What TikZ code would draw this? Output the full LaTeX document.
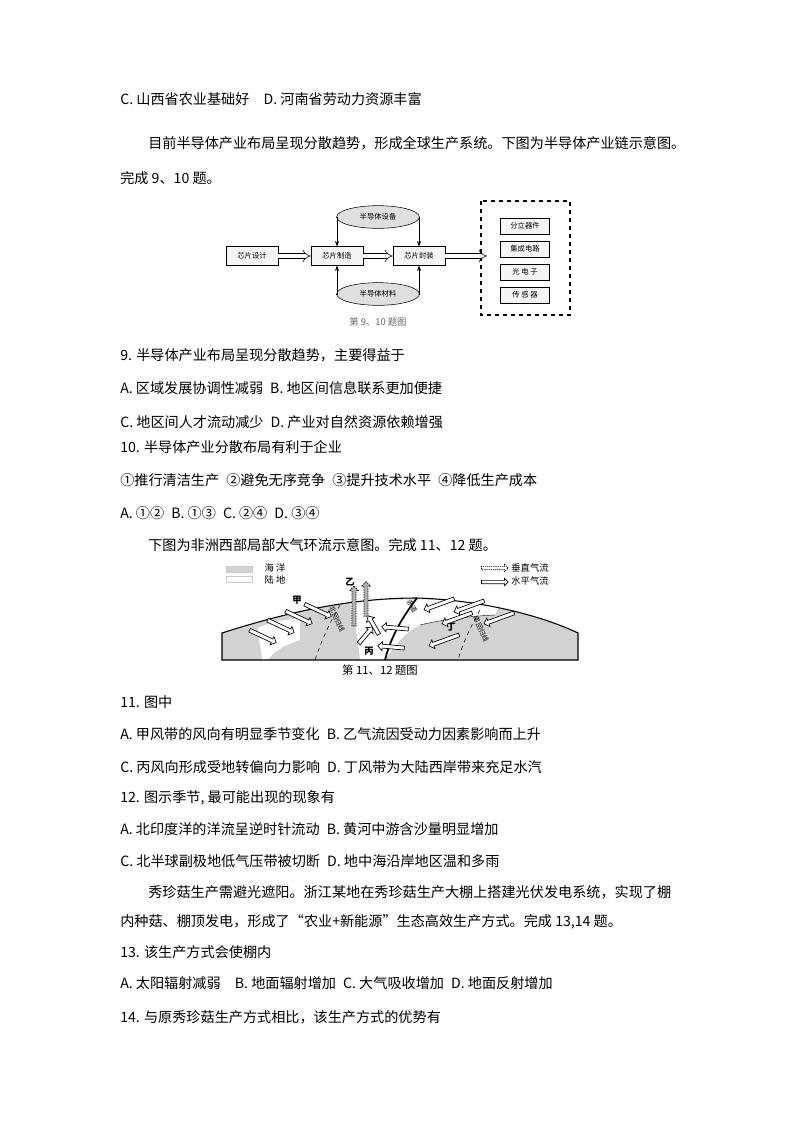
\documentclass[tikz,border=0pt]{standalone}
\usepackage{fontspec}
\setmainfont{Noto Sans CJK SC}
\usetikzlibrary{shapes.geometric,shapes.arrows,arrows.meta}
\begin{document}
\begin{tikzpicture}[x=0.75pt,y=-0.75pt,
  txt/.style={anchor=west,inner sep=0pt,font=\fontsize{10.6}{12}\selectfont},
  sbox/.style={draw,fill=gray!8,minimum width=39pt,minimum height=14pt,inner sep=0pt,font=\fontsize{5.5}{6}\selectfont},
  ibox/.style={draw,fill=gray!8,minimum width=37pt,minimum height=12pt,inner sep=0pt,font=\fontsize{5.5}{6}\selectfont},
  ell/.style={ellipse,draw,fill=gray!25,minimum width=62pt,minimum height=17pt,inner sep=0pt,font=\fontsize{5.5}{6}\selectfont},
  harr/.style={single arrow,draw,fill=white,minimum height=#1,single arrow head extend=2pt,inner sep=1.2pt,line width=0.5pt},
  harr/.default=24pt,
  lab/.style={inner sep=0pt,font=\fontsize{5}{6}\selectfont}]
\useasboundingbox (0,0) rectangle (800,1132);
\fill[white] (0,0) rectangle (800,1132);
\node[txt] (l1) at (120,99) {C. 山西省农业基础好\quad D. 河南省劳动力资源丰富};
\node[txt] (l2) at (148,143) {目前半导体产业布局呈现分散趋势，形成全球生产系统。下图为半导体产业链示意图。};
\node[txt] (l3) at (120,178) {完成 9、10 题。};
% diagram 1
\node[sbox] (d1) at (252,256) {芯片设计};
\node[sbox] (d2) at (337,256) {芯片制造};
\node[sbox] (d3) at (419,256) {芯片封装};
\node[ell] (e1) at (378,217) {半导体设备};
\node[ell] (e2) at (378,294) {半导体材料};
\draw[dashed,thick] (481,201) rectangle (570,315);
\node[ibox] (p1) at (525,226) {分立器件};
\node[ibox] (p2) at (525,249) {集成电路};
\node[ibox] (p3) at (525,272) {光\ 电\ 子};
\node[ibox] (p4) at (525,295) {传\ 感\ 器};
\draw[double,double distance=3pt,-{Implies[]}] (d1) -- (d2);
\draw[double,double distance=3pt,-{Implies[]}] (d2) -- (d3);
\draw[double,double distance=3pt,-{Implies[]}] (d3) -- (487,256);
\draw[-{Stealth[length=4pt]}] (e1.west) -| (d2.north);
\draw[-{Stealth[length=4pt]}] (e1.east) -| (d3.north);
\draw[-{Stealth[length=4pt]}] (e2.west) -| (d2.south);
\draw[-{Stealth[length=4pt]}] (e2.east) -| (d3.south);
\node[inner sep=0pt,font=\fontsize{7}{8}\selectfont,text=gray!80!black] (c1) at (378,322) {第 9、10 题图};
\node[txt] at (120,355) {9. 半导体产业布局呈现分散趋势，主要得益于};
\node[txt] at (120,388) {A. 区域发展协调性减弱\enspace B. 地区间信息联系更加便捷};
\node[txt] at (120,422) {C. 地区间人才流动减少\enspace D. 产业对自然资源依赖增强};
\node[txt] at (120,447) {10. 半导体产业分散布局有利于企业};
\node[txt] at (120,480) {①推行清洁生产\enspace ②避免无序竞争\enspace ③提升技术水平\enspace ④降低生产成本};
\node[txt] at (120,513) {A. ①②\enspace B. ①③\enspace C. ②④\enspace D. ③④};
\node[txt] at (148,545) {下图为非洲西部局部大气环流示意图。完成 11、12 题。};
% diagram 2
\fill[gray!35] (222,660) -- (222,633) .. controls (300,608) and (360,598) .. (417,598) .. controls (480,600) and (540,615) .. (578,633) -- (578,660) -- cycle;
\fill[white] (258,628) .. controls (270,622) and (285,620) .. (300,618) -- (300,640) .. controls (285,645) and (275,650) .. (268,660) -- (262,660) .. controls (262,650) and (258,640) .. cycle;
\fill[white] (350,603) .. controls (390,598) and (440,598) .. (500,604) -- (495,615) .. controls (470,616) and (440,620) .. (420,625) .. controls (405,632) and (395,645) .. (385,660) -- (360,660) .. controls (358,640) and (355,620) .. cycle;
\draw[thick] (222,660) -- (222,633) .. controls (300,608) and (360,598) .. (417,598) .. controls (480,600) and (540,615) .. (578,633) -- (578,660) -- cycle;
\draw[line width=0.3pt] (420,625) .. controls (440,620) and (470,616) .. (495,615);
\draw[dashed] (340,605) .. controls (328,625) and (320,645) .. (315,660);
\draw[dashed] (480,610) .. controls (470,628) and (462,645) .. (458,660);
\draw[line width=1.3pt] (417,598) .. controls (400,620) and (390,640) .. (385,660);
\node[lab,rotate=-65] at (337,619) {北回归线};
\node[lab,rotate=-65] at (481,629) {南回归线};
\node[lab,rotate=-60] at (412,606) {赤道};
% legend
\draw[fill=gray!35,draw=gray!40] (226,566) rectangle (252,572);
\draw[fill=white,draw=gray!40] (226,576) rectangle (252,582);
\node[lab,font=\fontsize{7}{8}\selectfont] (lg1) at (275,568) {海\ 洋};
\node[lab,font=\fontsize{7}{8}\selectfont] (lg2) at (275,580) {陆\ 地};
\node[harr=20pt,single arrow head extend=1.5pt,inner sep=1pt,dash pattern=on 1pt off 0.6pt] (la1) at (494,568) {};
\node[harr=20pt,single arrow head extend=1.5pt,inner sep=1pt] (la2) at (494,582) {};
\node[lab,font=\fontsize{7}{8}\selectfont] at (530,568) {垂直气流};
\node[lab,font=\fontsize{7}{8}\selectfont] at (530,581) {水平气流};
\node[lab,font=\bfseries\fontsize{7}{8}\selectfont] (jia) at (297,600) {甲};
\node[lab,font=\bfseries\fontsize{7}{8}\selectfont] (yi) at (350,582) {乙};
\node[lab,font=\bfseries\fontsize{7}{8}\selectfont] (bing) at (369,651) {丙};
\node[lab,font=\bfseries\fontsize{7}{8}\selectfont] (ding) at (451,627) {丁};
\node[harr=30pt,rotate=90,fill=gray!60,dash pattern=on 1pt off 0.8pt] at (354,607) {};
\node[harr=26pt,rotate=90,fill=gray!60,dash pattern=on 1pt off 0.8pt] at (366,600) {};
\foreach \p in {(262,636),(280,626),(298,617),(317,610)}
  \node[harr=22pt,rotate=-25] at \p {};
\foreach \p in {(440,604),(470,606),(458,618),(445,640),(500,618)}
  \node[harr=24pt,rotate=200] at \p {};
\node[harr=16pt,rotate=120] at (374,626) {};
\node[harr=16pt,rotate=50] at (365,636) {};
\node[harr=20pt,rotate=175] at (396,628) {};
\node[harr=20pt,rotate=175] at (392,647) {};
\node[inner sep=0pt,font=\fontsize{8.5}{9}\selectfont] at (380,670) {第 11、12 题图};
\node[txt] at (120,702) {11. 图中};
\node[txt] at (120,734) {A. 甲风带的风向有明显季节变化\enspace B. 乙气流因受动力因素影响而上升};
\node[txt] at (120,767) {C. 丙风向形成受地转偏向力影响\enspace D. 丁风带为大陆西岸带来充足水汽};
\node[txt] at (120,798) {12. 图示季节, 最可能出现的现象有};
\node[txt] at (120,829) {A. 北印度洋的洋流呈逆时针流动\enspace B. 黄河中游含沙量明显增加};
\node[txt] at (120,861) {C. 北半球副极地低气压带被切断\enspace D. 地中海沿岸地区温和多雨};
\node[txt] at (148,892) {秀珍菇生产需避光遮阳。浙江某地在秀珍菇生产大棚上搭建光伏发电系统，实现了棚};
\node[txt] at (120,922) {内种菇、棚顶发电，形成了“农业+新能源”生态高效生产方式。完成 13,14 题。};
\node[txt] at (120,952) {13. 该生产方式会使棚内};
\node[txt] at (120,983) {A. 太阳辐射减弱\quad B. 地面辐射增加\enspace C. 大气吸收增加\enspace D. 地面反射增加};
\node[txt] at (120,1017) {14. 与原秀珍菇生产方式相比，该生产方式的优势有};
\end{tikzpicture}
\end{document}
